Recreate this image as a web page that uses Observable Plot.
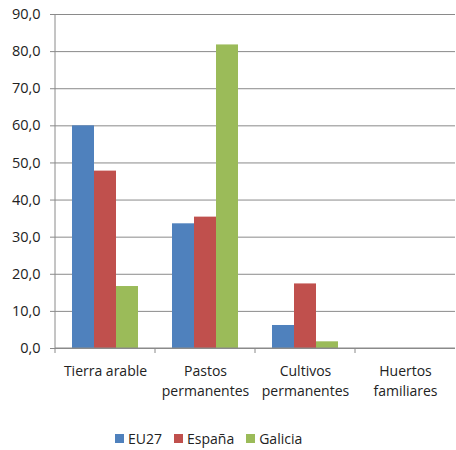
<!DOCTYPE html>
<html><head><meta charset="utf-8">
<script src="https://cdn.jsdelivr.net/npm/d3@7"></script>
<script src="https://cdn.jsdelivr.net/npm/@observablehq/plot@0.6"></script>
<style>
body{margin:0;background:#fff;font-family:"Open Sans",sans-serif;}
#chart svg{display:block;}
.legend{display:flex;align-items:center;margin-left:115px;margin-top:6px;height:35px;font-size:14px;color:#222;}
.legend .item{display:flex;align-items:center;margin-right:12px;}
.legend .sw{width:9px;height:9px;margin-right:4px;}
</style></head><body>
<div id="chart"></div>
<div class="legend" id="legend"></div>
<script>
const categories = ["Tierra arable", "Pastos permanentes", "Cultivos permanentes", "Huertos familiares"];
const categoryLabels = ["Tierra arable", "Pastos\npermanentes", "Cultivos\npermanentes", "Huertos\nfamiliares"];
const series = ["EU27", "España", "Galicia"];
const colors = ["#4F81BD", "#C0504D", "#9BBB59"];
const eu27 = [60.0, 33.6, 6.2, 0.0];
const espana = [47.8, 35.4, 17.4, 0.0];
const galicia = [16.7, 81.8, 1.8, 0.0];
const yTicks = [0, 10, 20, 30, 40, 50, 60, 70, 80, 90];

const valuesBySeries = [eu27, espana, galicia];
const data = categories.flatMap((c, i) => series.map((s, j) => ({cat: c, serie: s, value: valuesBySeries[j][i]})));
const gridColor = "#8a8a8a";
const fmt = d => d.toFixed(1).replace(".", ",");

const chart = Plot.plot({
  width: 456,
  height: 415,
  marginTop: 14,
  marginBottom: 67,
  marginLeft: 54,
  marginRight: 0,
  style: {fontFamily: "'Open Sans', sans-serif", fontSize: "14px", color: "#222"},
  fx: {domain: categories, paddingInner: 0, paddingOuter: 0, label: null},
  x: {domain: series, paddingInner: 0, paddingOuter: 0.75, axis: null},
  y: {domain: [0, 90], label: null},
  color: {domain: series, range: colors},
  marks: [
    Plot.gridY(yTicks, {stroke: gridColor, strokeOpacity: 1}),
    Plot.barY(data, {fx: "cat", x: "serie", y: "value", fill: "serie"}),
    Plot.axisY(yTicks, {tickFormat: fmt, tickSize: 5, tickPadding: 10, stroke: gridColor, label: null, fontSize: 14.5}),
    Plot.axisFx({anchor: "bottom", tickSize: 0, tickPadding: 13, label: null, lineHeight: 1.45,
      tickFormat: c => categoryLabels[categories.indexOf(c)]}),
    Plot.frame({
      facet: "super",
      render(index, scales, values, dimensions) {
        const {fx, y} = scales;
        const g = d3.create("svg:g").attr("stroke", gridColor).attr("fill", "none");
        const x0 = dimensions.marginLeft, x1 = dimensions.width - dimensions.marginRight;
        const y0 = y(0);
        g.append("line").attr("x1", x0).attr("x2", x1).attr("y1", y0).attr("y2", y0);
        g.append("line").attr("x1", x0).attr("x2", x0).attr("y1", y(90)).attr("y2", y0);
        for (const c of categories) {
          const bx = fx(c);
          g.append("line").attr("x1", bx).attr("x2", bx).attr("y1", y0).attr("y2", y0 + 5);
        }
        return g.node();
      }
    })
  ]
});
document.getElementById("chart").append(chart);

const legend = document.getElementById("legend");
series.forEach((s, i) => {
  const item = document.createElement("div");
  item.className = "item";
  const sw = document.createElement("span");
  sw.className = "sw";
  sw.style.background = colors[i];
  const t = document.createElement("span");
  t.textContent = s;
  item.append(sw, t);
  legend.append(item);
});
</script>
</body></html>
